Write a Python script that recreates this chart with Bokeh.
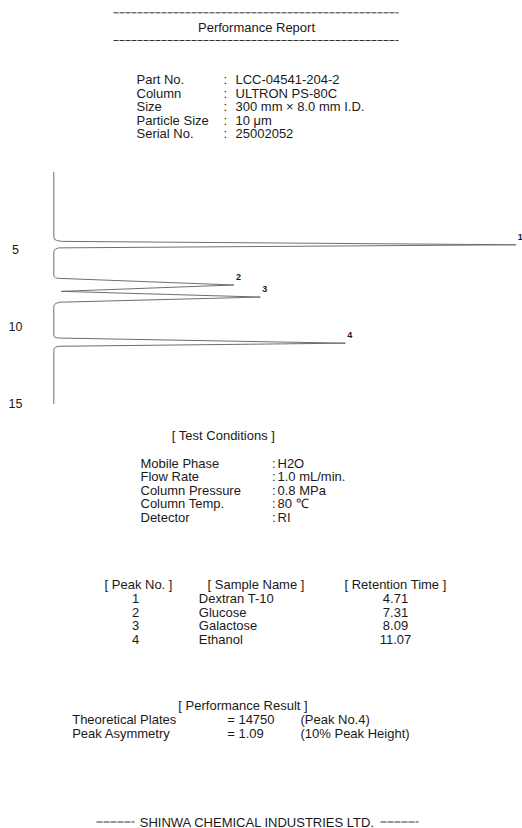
from bokeh.plotting import figure
from bokeh.models import Range1d
from bokeh.embed import file_html
from bokeh.resources import INLINE
from bokeh.core.properties import value

# ---------------- data ----------------
report_title = "Performance Report"
part_labels = ["Part No.", "Column", "Size", "Particle Size", "Serial No."]
part_values = ["LCC-04541-204-2", "ULTRON PS-80C", "300 mm × 8.0 mm I.D.", "10 μm", "25002052"]

cond_title = "[ Test Conditions ]"
cond_labels = ["Mobile Phase", "Flow Rate", "Column Pressure", "Column Temp.", "Detector"]
cond_values = ["H2O", "1.0 mL/min.", "0.8 MPa", "80 ℃", "RI"]

table_headers = ["[ Peak No. ]", "[ Sample Name ]", "[ Retention Time ]"]
peak_no = ["1", "2", "3", "4"]
sample_names = ["Dextran T-10", "Glucose", "Galactose", "Ethanol"]
retention_times = [4.71, 7.31, 8.09, 11.07]
peak_heights = [100.0, 39.0, 44.7, 63.1]  # relative to peak 1 (%)

result_title = "[ Performance Result ]"
result_labels = ["Theoretical Plates", "Peak Asymmetry"]
result_values = ["= 14750", "= 1.09"]
result_notes = ["(Peak No.4)", "(10% Peak Height)"]

footer = "SHINWA CHEMICAL INDUSTRIES LTD."

time_ticks = [5, 10, 15]

# chromatogram trace (time in min, signal in % of peak 1)
trace_time = [0.0, 4.18, 4.36, 4.45, 4.49, 4.71, 4.91, 4.98, 5.11, 5.27,
              6.70, 6.79, 6.85, 6.88, 7.31, 7.72, 8.09, 8.42, 8.49, 8.59, 8.70,
              10.54, 10.66, 10.72, 10.74, 11.07, 11.27, 11.33, 11.44, 11.54, 15.0]
trace_signal = [0.0, 0.0, 0.15, 0.8, 1.88, 100.0, 1.02, 0.37, 0.04, 0.0,
                0.0, 0.15, 0.37, 1.02, 39.0, 1.6, 44.7, 1.45, 0.48, 0.11, 0.0,
                0.0, 0.11, 0.58, 1.45, 63.1, 1.02, 0.37, 0.04, 0.0, 0.0]

# ---------------- figure ----------------
W, H = 522, 828
p = figure(width=W, height=H, x_range=Range1d(0, W), y_range=Range1d(H, 0),
           x_axis_location=None, y_axis_location=None, toolbar_location=None,
           output_backend="svg", min_border=0, outline_line_color=None,
           background_fill_color="white", border_fill_color="white")
p.grid.grid_line_color = None
p.extra_x_ranges = {"sig": Range1d(-11.54, 101.45)}
p.extra_y_ranges = {"time": Range1d(42.44, -11.08)}

FONT = value("Liberation Sans")
TXT = "#1a1a1a"


def txt(x, y, t, align="left", size="13px", style="normal", **kw):
    p.text(x=x, y=y, text=t, text_align=align, text_baseline="middle",
           text_font=FONT, text_font_size=size, text_font_style=style,
           text_color=TXT, **kw)


# header
p.segment(x0=[113, 113], y0=[12.3, 40], x1=[398, 398], y1=[12.3, 40],
          line_color="#333333", line_width=1, line_dash="5 1")
txt([256], [26.7], [report_title], align="center")

row5 = [79, 92.5, 106, 119.5, 133]
txt([136] * 5, row5, part_labels)
txt([223] * 5, row5, [":"] * 5)
txt([235] * 5, row5, part_values)

# chromatogram
p.line(trace_signal, trace_time, x_range_name="sig", y_range_name="time",
       line_color="#6e6e6e", line_width=1)
txt([15] * 3, time_ticks, [str(t) for t in time_ticks], align="center", size="12.5px",
    y_range_name="time")
txt(peak_heights, retention_times, peak_no, align="left", size="9px", style="bold",
    x_range_name="sig", y_range_name="time", x_offset=2, y_offset=-8)

# test conditions
txt([223], [435], [cond_title], align="center")
crow = [462.7, 476.2, 489.8, 503.3, 517]
txt([140] * 5, crow, cond_labels)
txt([271.5] * 5, crow, [":"] * 5)
txt([277] * 5, crow, cond_values)

# peak table
txt([138, 255.5, 395], [584] * 3, table_headers, align="center")
trow = [597.7, 611.5, 625.2, 639]
txt([135] * 4, trow, peak_no, align="center")
txt([198.3] * 4, trow, sample_names)
txt([395] * 4, trow, ["%.2f" % t for t in retention_times], align="center")

# performance result
txt([242.5], [705], [result_title], align="center")
txt([71.7] * 2, [719.3, 732.8], result_labels)
txt([226.7] * 2, [719.3, 732.8], result_values)
txt([300] * 2, [719.3, 732.8], result_notes)

# footer
p.segment(x0=[96, 380], y0=[821.5, 821.5], x1=[134, 418], y1=[821.5, 821.5],
          line_color="#333333", line_width=1.2, line_dash="6 1")
txt([257], [821.5], [footer], align="center", size="13px")

open("out.html", "w").write(file_html(p, INLINE))
